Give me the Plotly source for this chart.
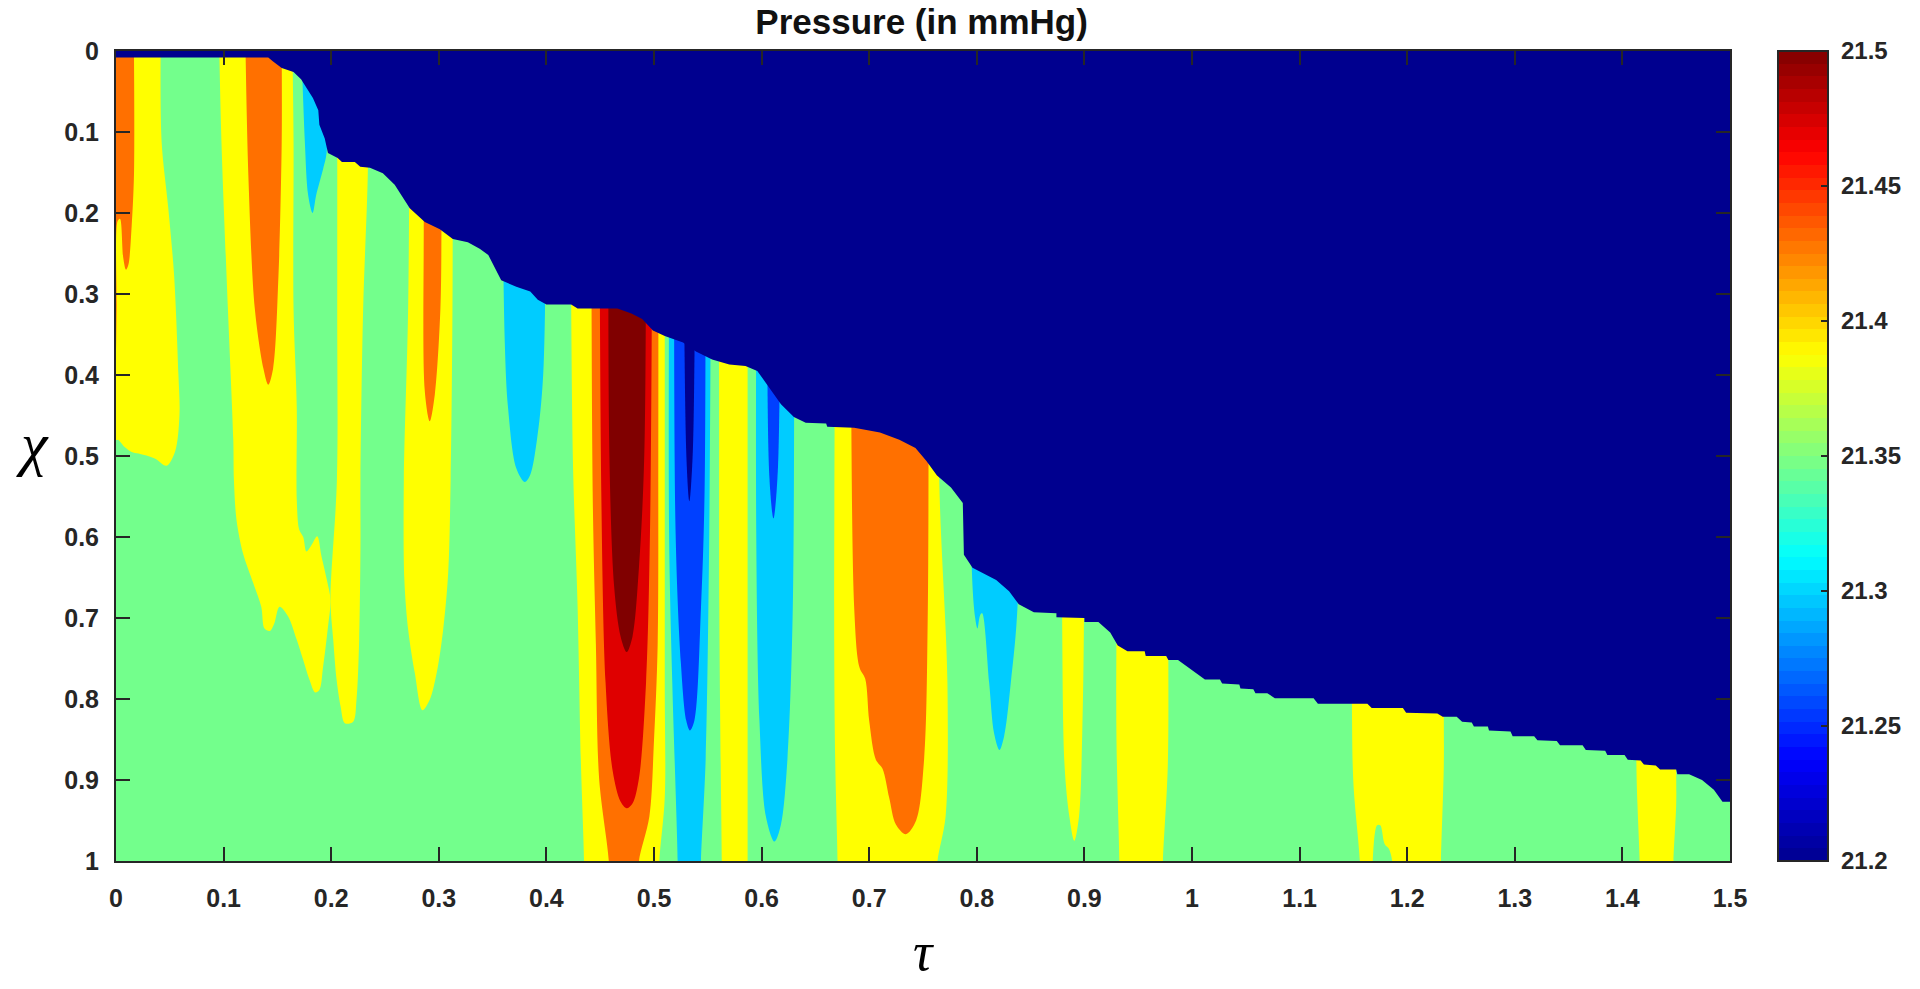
import plotly.colors as pc
import plotly.graph_objects as go

# contour levels of the filled plot
GREEN = "#73FF8C"
YELLOW = "#FFFF00"
ORANGE = "#FF7000"
RED = "#DF0000"
DARK_RED = "#800000"
CYAN = "#00CCFF"
BLUE = "#0040FF"
NAVY = "#00008F"

CBAR_TICKS = [21.2, 21.25, 21.3, 21.35, 21.4, 21.45, 21.5]
CBAR_LABELS = ["\u00a0" + s for s in ["21.2", "21.25", "21.3", "21.35", "21.4", "21.45", "21.5"]]
TAU_TICKS = [0, 0.1, 0.2, 0.3, 0.4, 0.5, 0.6, 0.7, 0.8, 0.9, 1, 1.1, 1.2, 1.3, 1.4, 1.5]
CHI_TICKS = [0, 0.1, 0.2, 0.3, 0.4, 0.5, 0.6, 0.7, 0.8, 0.9, 1]

# front of the wave: everything above it is at the lowest level
front = [(0, .008), (.1415, .008), (.146, .013), (.154, .021), (.165, .026), (.172, .035), (.183, .058),
         (.188, .073), (.189, .091), (.194, .108), (.197, .126), (.206, .132), (.21, .137), (.222, .137),
         (.227, .143), (.236, .144), (.248, .151), (.259, .165), (.273, .194), (.287, .211), (.301, .22),
         (.313, .232), (.327, .236), (.338, .244), (.346, .252), (.358, .283), (.372, .291), (.385, .297),
         (.392, .307), (.4, .313), (.423, .313), (.429, .318), (.466, .318), (.479, .324), (.489, .331),
         (.499, .345), (.51, .352), (.527, .36), (.539, .371), (.554, .381), (.57, .387), (.585, .389),
         (.596, .395), (.606, .414), (.618, .436), (.63, .452), (.641, .459), (.66, .46), (.661, .464),
         (.686, .465), (.71, .471), (.728, .48), (.743, .49), (.753, .506), (.763, .524), (.776, .539),
         (.787, .558), (.788, .622), (.796, .638), (.818, .653), (.83, .667), (.839, .683), (.853, .693),
         (.874, .694), (.874, .699), (.9, .7), (.9, .705), (.913, .705), (.924, .718), (.931, .734),
         (.94, .741), (.956, .741), (.957, .747), (.976, .747), (.978, .752), (.987, .752), (.999, .764),
         (1.012, .776), (1.026, .776), (1.028, .781), (1.044, .782), (1.045, .787), (1.057, .788),
         (1.059, .793), (1.07, .793), (1.077, .799), (1.113, .799), (1.117, .806), (1.163, .806),
         (1.167, .811), (1.196, .811), (1.199, .817), (1.228, .818), (1.233, .822), (1.246, .822),
         (1.251, .828), (1.26, .829), (1.262, .834), (1.275, .834), (1.276, .839), (1.296, .84),
         (1.298, .846), (1.318, .846), (1.321, .851), (1.339, .852), (1.342, .857), (1.363, .857),
         (1.366, .863), (1.384, .864), (1.386, .869), (1.402, .869), (1.405, .875), (1.417, .876),
         (1.42, .881), (1.431, .882), (1.435, .887), (1.45, .887), (1.451, .893), (1.462, .893),
         (1.474, .9), (1.485, .912), (1.493, .927), (1.5, .927), (1.5, 0), (0, 0)]

background = [(0, 0), (1.5, 0), (1.5, 1), (0, 1)]

yellow_a = [(.0415, 0), (.0424, .112), (.0486, .194), (.054, .277), (.058, .399), (.059, .449), (.055, .494),
            (.047, .512), (.036, .503), (.021, .497), (.0145, .495), (.008, .489), (.002, .48), (0, .48), (0, 0)]
yellow_b = [(.096, 0), (.098, .112), (.104, .318), (.109, .48), (.1096, .53), (.112, .579), (.118, .62),
            (.1276, .657), (.135, .686), (.138, .713), (.143, .716), (.147, .707), (.152, .686), (.16, .698),
            (.168, .727), (.174, .752), (.18, .777), (.185, .792), (.189, .789), (.1925, .76), (.197, .711),
            (.1994, .678), (.196, .653), (.191, .624), (.187, .599), (.1817, .61), (.177, .618), (.174, .6),
            (.1703, .591), (.168, .554), (.168, .441), (.165, .318), (.165, .112), (.164, 0)]
yellow_c = [(.2056, 0), (.2056, .318), (.2053, .53), (.1994, .678), (.2019, .727), (.205, .776), (.2087, .809),
            (.2127, .83), (.2204, .828), (.2235, .801), (.226, .727), (.2272, .612), (.2272, .53), (.2297, .318),
            (.234, .153), (.235, 0)]
yellow_d = [(.273, 0), (.2715, .318), (.2675, .53), (.268, .653), (.2716, .715), (.2777, .768), (.2848, .814),
            (.2916, .801), (.298, .768), (.304, .715), (.3087, .645), (.311, .53), (.3127, .318), (.313, 0)]
yellow_e = [(.422, 0), (.4245, .497), (.429, .686), (.432, .875), (.435, 1), (.505, 1), (.51, .922), (.51, .78),
            (.51, .4), (.51, 0)]
yellow_f = [(.56, 0), (.5605, .4), (.5607, .686), (.562, .88), (.563, 1), (.587, 1), (.587, .7), (.587, .3), (.587, 0)]
yellow_g = [(.669, 0), (.668, .4), (.6675, .733), (.6684, .875), (.6706, 1), (.7635, 1), (.771, .945), (.7727, .78),
            (.765, .525), (.765, 0)]
yellow_h = [(.8793, 0), (.8793, .7), (.8816, .883), (.886, .945), (.8906, .975), (.895, .945), (.898, .842),
            (.8996, .7), (.8996, 0)]
yellow_i = [(.931, 0), (.9298, .7), (.9298, .85), (.9325, 1), (.973, 1), (.9775, .883), (.978, .7), (.978, 0)]
yellow_j = [(1.1486, 0), (1.1486, .8), (1.15, .904), (1.156, 1), (1.168, 1), (1.172, .956), (1.175, .956),
            (1.179, .979), (1.183, .985), (1.186, 1), (1.2314, 1), (1.234, .883), (1.234, .8), (1.234, 0)]
yellow_k = [(1.413, 0), (1.413, .88), (1.414, .93), (1.416, 1), (1.4475, 1), (1.45, .93), (1.45, .88), (1.45, 0)]

orange_a = [(.0167, 0), (.0167, .153), (.0146, .215), (.0115, .264), (.0093, .27), (.0068, .256),
            (.0037, .207), (.0015, .21), (.0006, .318), (0, .37), (0, 0)]
orange_b = [(.1204, 0), (.123, .153), (.129, .318), (.137, .392), (.1415, .412), (.146, .392), (.151, .277),
            (.154, .112), (.154, 0)]
orange_c = [(.286, 0), (.286, .21), (.287, .42), (.2916, .457), (.2963, .424), (.3015, .318), (.3025, .21), (.3025, 0)]
orange_e = [(.4415, 0), (.443, .544), (.446, .733), (.449, .898), (.458, 1), (.486, 1), (.4957, .945), (.5, .851),
            (.5034, .733), (.504, .5), (.504, 0)]
orange_g = [(.683, 0), (.686, .686), (.691, .761), (.6963, .775), (.7, .827), (.7062, .875), (.7124, .886),
            (.7186, .922), (.7248, .955), (.734, .967), (.7436, .95), (.751, .875), (.7545, .686), (.7545, 0)]

red_e = [(.449, 0), (.451, .544), (.455, .78), (.4616, .889), (.469, .927), (.4746, .935), (.48, .929), (.486, .898),
         (.4926, .78), (.4963, .591), (.499, 0)]
dark_red_e = [(.458, 0), (.4585, .497), (.463, .662), (.469, .723), (.4746, .742), (.48, .723), (.486, .638),
              (.491, .497), (.4926, 0)]

cyan_0 = [(.1724, 0), (.1755, .112), (.1786, .178), (.1827, .2), (.186, .178), (.1926, .145), (.1957, .126), (.1957, 0)]
cyan_d = [(.358, 0), (.3613, .359), (.3644, .441), (.372, .515), (.38, .532), (.385, .523), (.391, .482), (.397, .4),
          (.4, 0)]
cyan_1 = [(.515, 0), (.514, .591), (.517, .78), (.522, 1), (.5437, 1), (.548, .875), (.551, .638), (.554, 0)]
cyan_2 = [(.596, 0), (.595, .591), (.598, .827), (.604, .945), (.612, .976), (.618, .955), (.624, .875), (.629, .686),
          (.63, 0)]
cyan_3 = [(.7954, 0), (.7954, .641), (.7985, .7), (.8006, .713), (.803, .697), (.805, .694), (.8115, .78), (.816, .842),
          (.821, .863), (.8254, .846), (.8316, .78), (.838, .681), (.838, 0)]

blue_1 = [(.519, 0), (.52, .59), (.525, .756), (.53, .827), (.5334, .839), (.5375, .827), (.5437, .686), (.547, .544),
          (.5477, 0)]
blue_2 = [(.6056, 0), (.607, .52), (.611, .577), (.615, .52), (.618, 0)]
navy_1 = [(.5266, 0), (.53, .497), (.5328, .556), (.536, .497), (.539, 0)]

# painted in this order, the later ones sit on top
regions = [
    (background, GREEN),
    (yellow_a, YELLOW), (yellow_b, YELLOW), (yellow_c, YELLOW), (yellow_d, YELLOW), (yellow_e, YELLOW),
    (yellow_f, YELLOW), (yellow_g, YELLOW), (yellow_h, YELLOW), (yellow_i, YELLOW), (yellow_j, YELLOW),
    (yellow_k, YELLOW),
    (orange_a, ORANGE), (orange_b, ORANGE), (orange_c, ORANGE), (orange_e, ORANGE), (orange_g, ORANGE),
    (red_e, RED), (dark_red_e, DARK_RED),
    (cyan_0, CYAN), (cyan_d, CYAN), (cyan_1, CYAN), (cyan_2, CYAN), (cyan_3, CYAN),
    (blue_1, BLUE), (blue_2, BLUE), (navy_1, NAVY),
    (front, NAVY),
]

JET = [[0, "#00008F"], [0.125, "#0000FF"], [0.375, "#00FFFF"], [0.625, "#FFFF00"], [0.875, "#FF0000"], [1, "#800000"]]
N_STEPS = 64


def stepped_jet():
    """jet cut into flat steps, as the matlab colorbar shows it"""
    colors = pc.sample_colorscale(JET, [(i + 0.5) / N_STEPS for i in range(N_STEPS)])
    scale = []
    for i, c in enumerate(colors):
        scale.append([i / N_STEPS, c])
        scale.append([(i + 1) / N_STEPS, c])
    return scale


def run_off_bottom(points):
    """carry band sides straight down past the frame so the spline has no corner on the axis"""
    out = []
    for i, (t, c) in enumerate(points):
        if c < 1:
            out.append((t, c))
        elif points[i - 1][1] < 1:
            out += [(t, c), (t, 1.03), (t, 1.2)]
        else:
            out += [(t, 1.2), (t, 1.03), (t, c)]
    return out


FONT = "Liberation Sans"
INK = "#262626"

# only there to carry the colorbar, the background region covers it
data = [go.Heatmap(
    x=[0, 1.5],
    y=[0, 1],
    z=[[CBAR_TICKS[0], CBAR_TICKS[-1]], [CBAR_TICKS[0], CBAR_TICKS[-1]]],
    zmin=CBAR_TICKS[0],
    zmax=CBAR_TICKS[-1],
    colorscale=stepped_jet(),
    hoverinfo="skip",
    colorbar=dict(
        thickness=50, thicknessmode="pixels",
        len=810, lenmode="pixels",
        x=1.0297, xanchor="left", xpad=0,
        y=1, yanchor="top", ypad=0,
        outlinecolor=INK, outlinewidth=2,
        tickmode="array", tickvals=CBAR_TICKS, ticktext=CBAR_LABELS,
        ticks="inside", ticklen=8, tickwidth=2, tickcolor=INK,
        tickfont=dict(family=FONT, size=24, color=INK, weight="bold"),
    ),
)]

for points, color in regions:
    # the stepped front stays straight, the contour bands are smooth
    is_band = points is not front and points is not background
    outline = run_off_bottom(points) if is_band else points
    data.append(go.Scatter(
        x=[p[0] for p in outline],
        y=[p[1] for p in outline],
        mode="lines",
        line=dict(width=0, color=color, shape="spline" if is_band else "linear", smoothing=0.9),
        fill="toself",
        fillcolor=color,
        hoverinfo="skip",
        showlegend=False,
    ))

fig = go.Figure(data=data)
fig.update_layout(
    width=1920,
    height=989,
    margin=dict(l=116, r=190, t=51, b=128, autoexpand=False),
    paper_bgcolor="white",
    plot_bgcolor="white",
    title=dict(text="<b>Pressure (in mmHg)</b>", x=0.48, xanchor="center", y=0.978, yanchor="middle",
               font=dict(family=FONT, size=35, color="#111111")),
    xaxis=dict(
        range=[0, 1.5], tickvals=TAU_TICKS, ticktext=[str(t) for t in TAU_TICKS],
        ticks="inside", ticklen=14, tickwidth=2, tickcolor=INK, mirror="ticks", showline=True, linewidth=2,
        linecolor=INK, showgrid=False, zeroline=False, ticklabelstandoff=14, automargin=False,
        tickfont=dict(family=FONT, size=25, color=INK, weight="bold"),
    ),
    yaxis=dict(
        range=[1, 0], tickvals=CHI_TICKS, ticktext=[str(t) for t in CHI_TICKS],
        ticks="inside", ticklen=14, tickwidth=2, tickcolor=INK, mirror="ticks", showline=True, linewidth=2,
        linecolor=INK, showgrid=False, zeroline=False, ticklabelstandoff=10, automargin=False,
        tickfont=dict(family=FONT, size=25, color=INK, weight="bold"),
    ),
    # axis titles as annotations, standoff does nothing with automargin off
    annotations=[
        dict(text="<i>τ</i>", xref="paper", yref="paper", x=0.5, y=-0.1125, xanchor="center", yanchor="middle",
             showarrow=False, font=dict(family="Liberation Serif", size=54, color="black")),
        dict(text="<i>χ</i>", xref="paper", yref="paper", x=-0.052, y=0.515, xanchor="center", yanchor="middle",
             showarrow=False, font=dict(family="Liberation Serif", size=60, color="black")),
    ],
)
fig.write_html("out.html", config=dict(displayModeBar=False),
               post_script="document.body.style.margin='0';document.body.style.overflow='hidden';")
